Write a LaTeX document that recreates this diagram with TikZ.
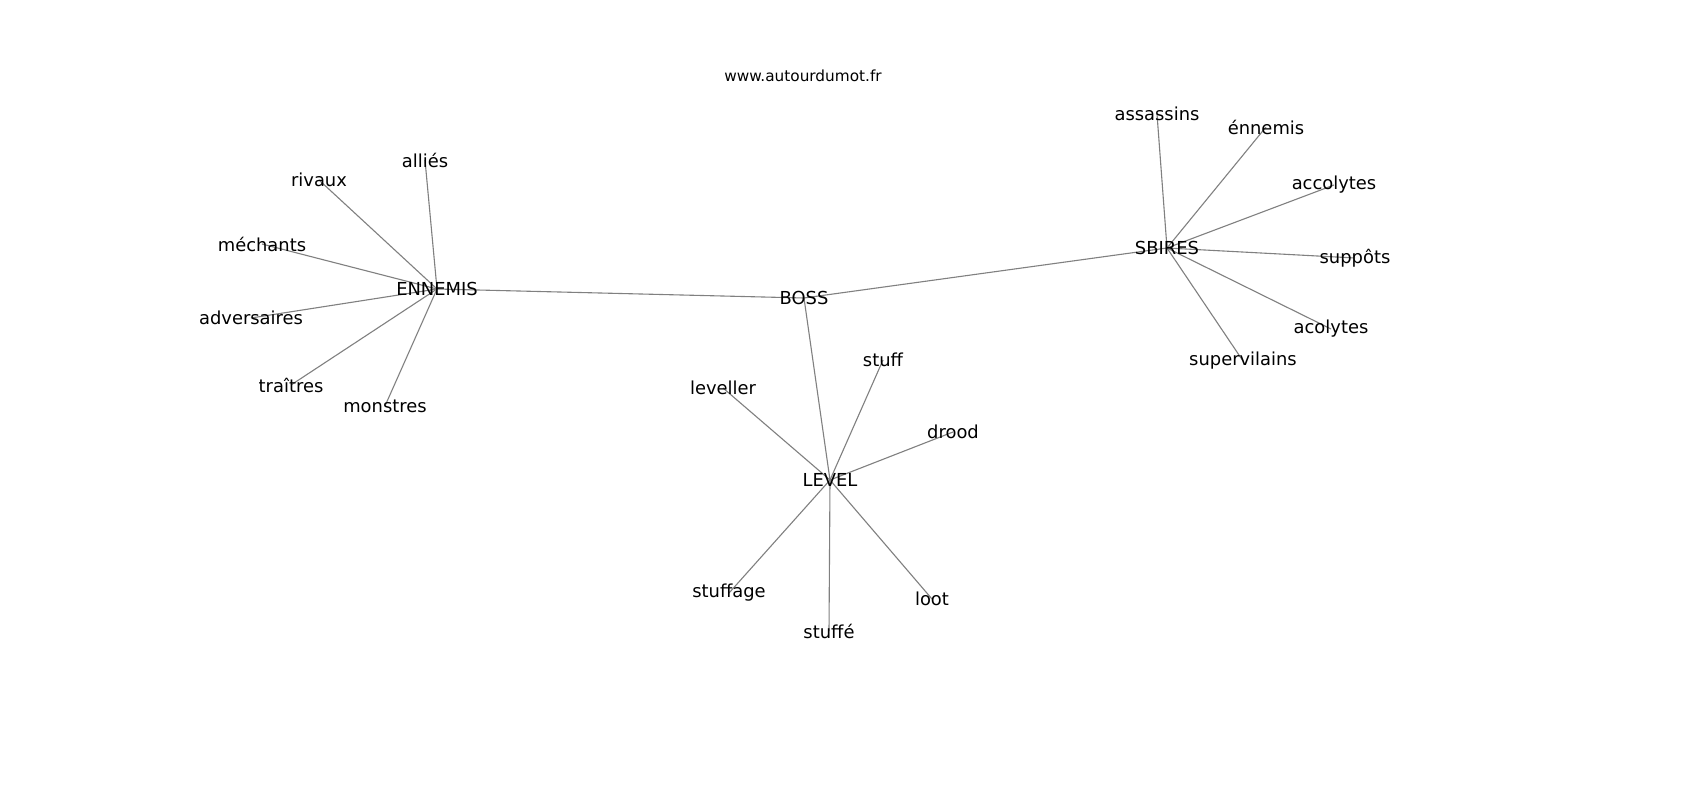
\documentclass[tikz,border=0pt]{standalone}
\usepackage{fontspec}
\setmainfont{DejaVu Sans}
\begin{document}
\begin{tikzpicture}[x=1pt,y=-1pt,
  lbl/.style={inner sep=0pt, font=\fontsize{17.9}{20}\selectfont},
  edge/.style={draw=gray, line width=1.1pt}]
\useasboundingbox[fill=white] (0,0) rectangle (1700,800);
\node[font=\fontsize{15.3}{17}\selectfont] (title) at (803,76) {www.autourdumot.fr};
% hubs
\coordinate (ENNEMIS) at (437,289);
\coordinate (BOSS) at (804,298);
\coordinate (SBIRES) at (1167,248);
\coordinate (LEVEL) at (830,480);
% leaves
\coordinate (allies) at (425,160);
\coordinate (rivaux) at (319,180);
\coordinate (mechants) at (262,244);
\coordinate (adversaires) at (251,318);
\coordinate (traitres) at (291,385);
\coordinate (monstres) at (385,406);
\coordinate (assassins) at (1157,114);
\coordinate (ennemis2) at (1266,127);
\coordinate (accolytes) at (1334,185);
\coordinate (suppots) at (1355,258);
\coordinate (acolytes) at (1331,329);
\coordinate (supervilains) at (1243,361);
\coordinate (stuff) at (883,360);
\coordinate (leveller) at (723,388);
\coordinate (drood) at (953,432);
\coordinate (stuffage) at (729,593);
\coordinate (stuffe) at (829,631);
\coordinate (loot) at (932,599);
% edges
\foreach \a/\b in {ENNEMIS/BOSS, BOSS/SBIRES, BOSS/LEVEL,
  ENNEMIS/allies, ENNEMIS/rivaux, ENNEMIS/mechants, ENNEMIS/adversaires, ENNEMIS/traitres, ENNEMIS/monstres,
  SBIRES/assassins, SBIRES/ennemis2, SBIRES/accolytes, SBIRES/suppots, SBIRES/acolytes, SBIRES/supervilains,
  LEVEL/stuff, LEVEL/leveller, LEVEL/drood, LEVEL/stuffage, LEVEL/stuffe, LEVEL/loot}
  \path[edge] (\a) -- (\b);
% labels
\node[lbl] (lENNEMIS) at (ENNEMIS) {ENNEMIS};
\node[lbl] (lBOSS) at (BOSS) {BOSS};
\node[lbl] (lSBIRES) at (SBIRES) {SBIRES};
\node[lbl] (lLEVEL) at (LEVEL) {LEVEL};
\node[lbl] (lallies) at (allies) {alliés};
\node[lbl] (lrivaux) at (rivaux) {rivaux};
\node[lbl] (lmechants) at (mechants) {méchants};
\node[lbl] (ladversaires) at (adversaires) {adversaires};
\node[lbl] (ltraitres) at (traitres) {traîtres};
\node[lbl] (lmonstres) at (monstres) {monstres};
\node[lbl] (lassassins) at (assassins) {assassins};
\node[lbl] (lennemis2) at (ennemis2) {énnemis};
\node[lbl] (laccolytes) at (accolytes) {accolytes};
\node[lbl] (lsuppots) at (suppots) {suppôts};
\node[lbl] (lacolytes) at (acolytes) {acolytes};
\node[lbl] (lsupervilains) at (supervilains) {supervilains};
\node[lbl] (lstuff) at (stuff) {stuff};
\node[lbl] (lleveller) at (leveller) {leveller};
\node[lbl] (ldrood) at (drood) {drood};
\node[lbl] (lstuffage) at (stuffage) {stuffage};
\node[lbl] (lstuffe) at (stuffe) {stuffé};
\node[lbl] (lloot) at (loot) {loot};
\end{tikzpicture}
\end{document}
